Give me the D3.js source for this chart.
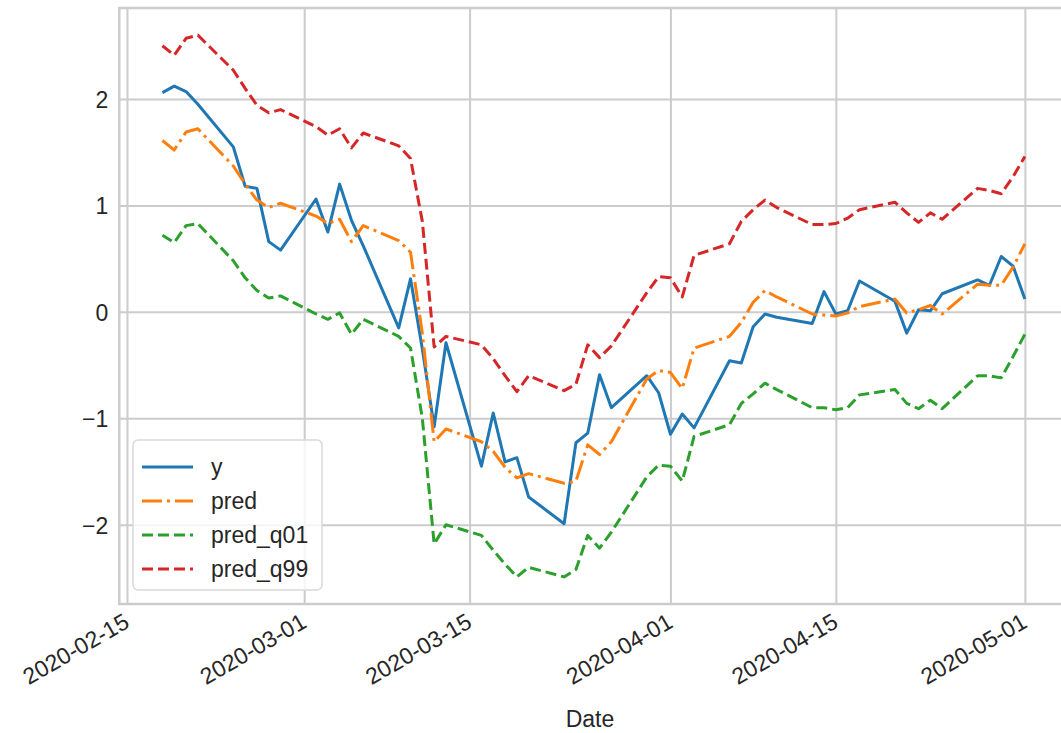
<!DOCTYPE html>
<html>
<head>
<meta charset="utf-8">
<script src="https://cdn.jsdelivr.net/npm/d3@7.9.0/dist/d3.min.js"></script>
<style>
  body { margin: 0; background: #fff; }
  svg text { font-family: "Liberation Sans", Arial, sans-serif; fill: #262626; }
</style>
</head>
<body>
<svg id="chart" width="1061" height="733"></svg>
<script>
// ─── DATA ────────────────────────────────────────────────────────────────────
const dates = [
  '2020-02-18','2020-02-19','2020-02-20','2020-02-21',
  '2020-02-24','2020-02-25','2020-02-26','2020-02-27','2020-02-28',
  '2020-03-02','2020-03-03','2020-03-04','2020-03-05','2020-03-06',
  '2020-03-09','2020-03-10','2020-03-11','2020-03-12','2020-03-13',
  '2020-03-16','2020-03-17','2020-03-18','2020-03-19','2020-03-20',
  '2020-03-23','2020-03-24','2020-03-25','2020-03-26','2020-03-27',
  '2020-03-30','2020-03-31','2020-04-01','2020-04-02','2020-04-03',
  '2020-04-06','2020-04-07','2020-04-08','2020-04-09','2020-04-10',
  '2020-04-13','2020-04-14','2020-04-15','2020-04-16','2020-04-17',
  '2020-04-20','2020-04-21','2020-04-22','2020-04-23','2020-04-24',
  '2020-04-27','2020-04-28','2020-04-29','2020-04-30','2020-05-01'
];

const yValues = [
  2.06, 2.12, 2.07, 1.95,
  1.55, 1.18, 1.16, 0.66, 0.58,
  1.06, 0.75, 1.20, 0.86, 0.62,
  -0.15, 0.31, -0.35, -1.08, -0.29,
  -1.45, -0.95, -1.41, -1.37, -1.74,
  -1.99, -1.23, -1.14, -0.59, -0.90,
  -0.60, -0.76, -1.15, -0.96, -1.09,
  -0.46, -0.48, -0.14, -0.02, -0.05,
  -0.11, 0.19, -0.02, 0.01, 0.29,
  0.10, -0.20, 0.02, 0.01, 0.17,
  0.30, 0.25, 0.52, 0.43, 0.12
];

const predValues = [
  1.61, 1.52, 1.69, 1.72,
  1.37, 1.20, 1.05, 0.98, 1.02,
  0.90, 0.83, 0.87, 0.66, 0.81,
  0.67, 0.56, -0.20, -1.22, -1.10,
  -1.22, -1.31, -1.46, -1.56, -1.52,
  -1.61, -1.59, -1.25, -1.34, -1.22,
  -0.63, -0.55, -0.57, -0.72, -0.34,
  -0.23, -0.10, 0.09, 0.20, 0.14,
  -0.02, -0.03, -0.04, -0.01, 0.05,
  0.12, -0.01, 0.02, 0.06, -0.02,
  0.26, 0.25, 0.25, 0.42, 0.64
];

const q01Values = [
  0.72, 0.65, 0.81, 0.83,
  0.48, 0.32, 0.20, 0.13, 0.15,
  -0.02, -0.07, -0.01, -0.21, -0.07,
  -0.23, -0.34, -1.00, -2.18, -2.00,
  -2.10, -2.24, -2.37, -2.49, -2.40,
  -2.49, -2.42, -2.10, -2.22, -2.07,
  -1.55, -1.44, -1.45, -1.59, -1.17,
  -1.06, -0.86, -0.77, -0.67, -0.73,
  -0.90, -0.90, -0.92, -0.90, -0.78,
  -0.73, -0.86, -0.91, -0.83, -0.91,
  -0.60, -0.60, -0.62, -0.42, -0.21
];

const q99Values = [
  2.50, 2.41, 2.57, 2.60,
  2.27, 2.10, 1.94, 1.87, 1.90,
  1.74, 1.66, 1.72, 1.54, 1.68,
  1.56, 1.44, 0.85, -0.33, -0.23,
  -0.31, -0.44, -0.60, -0.75, -0.60,
  -0.74, -0.68, -0.31, -0.43, -0.32,
  0.18, 0.33, 0.32, 0.14, 0.53,
  0.64, 0.85, 0.96, 1.05, 0.98,
  0.82, 0.82, 0.83, 0.88, 0.96,
  1.03, 0.93, 0.84, 0.93, 0.87,
  1.16, 1.14, 1.11, 1.27, 1.46
];

const xTickLabels = ['2020-02-15','2020-03-01','2020-03-15','2020-04-01','2020-04-15','2020-05-01'];
const yTickValues = [-2, -1, 0, 1, 2];

// ─── SETUP ───────────────────────────────────────────────────────────────────
const parse = d3.timeParse('%Y-%m-%d');
const fmt   = d3.timeFormat('%Y-%m-%d');
const FONT  = 23;

const M = { top: 8, left: 119.3 };
const W = 948.7;   // right spine falls just past the figure edge
const H = 596;

const series = [
  { name: 'y',        values: yValues,    color: '#1f77b4', dash: null },
  { name: 'pred',     values: predValues, color: '#ff7f0e', dash: '20,5,3,5' },
  { name: 'pred_q01', values: q01Values,  color: '#2ca02c', dash: '11,5' },
  { name: 'pred_q99', values: q99Values,  color: '#d62728', dash: '11,5' }
];

const times = dates.map(parse);

// matplotlib-like 5% margins
const [t0, t1] = d3.extent(times);
const tPad = (t1 - t0) * 0.05;
const allVals = series.flatMap(s => s.values);
const [v0, v1] = d3.extent(allVals);
const vPad = (v1 - v0) * 0.05;

const x = d3.scaleTime()
  .domain([new Date(+t0 - tPad), new Date(+t1 + tPad)])
  .range([0, W]);
const y = d3.scaleLinear()
  .domain([v0 - vPad, v1 + vPad])
  .range([H, 0]);

const svg = d3.select('#chart');
const g = svg.append('g').attr('transform', `translate(${M.left},${M.top})`);

// ─── GRID + AXES ─────────────────────────────────────────────────────────────
const yAxis = g.append('g')
  .call(d3.axisLeft(y).tickValues(yTickValues).tickSize(-W).tickPadding(11)
    .tickFormat(d => d < 0 ? '\u2212' + Math.abs(d) : String(d)));
yAxis.select('.domain').remove();
yAxis.selectAll('line').attr('stroke', '#cccccc').attr('stroke-width', 2);
yAxis.selectAll('text').style('font-size', FONT + 'px').attr('dy', '0.36em');

const xAxis = g.append('g')
  .attr('transform', `translate(0,${H})`)
  .call(d3.axisBottom(x).tickValues(xTickLabels.map(parse)).tickSize(-H).tickFormat(fmt));
xAxis.select('.domain').remove();
xAxis.selectAll('line').attr('stroke', '#cccccc').attr('stroke-width', 2);
xAxis.selectAll('text')
  .style('font-size', FONT + 'px')
  .attr('text-anchor', 'end')
  .attr('y', 0).attr('dy', '0.72em')
  .attr('transform', 'translate(-5,8) rotate(-30)');

// spines
g.append('rect')
  .attr('width', W).attr('height', H)
  .attr('fill', 'none')
  .attr('stroke', '#cccccc')
  .attr('stroke-width', 2.5);

// axis label
svg.append('text')
  .attr('x', 590)
  .attr('y', 727)
  .attr('text-anchor', 'middle')
  .style('font-size', FONT + 'px')
  .text('Date');

// ─── LINES ───────────────────────────────────────────────────────────────────
const line = d3.line()
  .x((d, i) => x(times[i]))
  .y(d => y(d));

series.forEach(s => {
  g.append('path')
    .datum(s.values)
    .attr('fill', 'none')
    .attr('stroke', s.color)
    .attr('stroke-width', 3)
    .attr('stroke-linejoin', 'round')
    .attr('stroke-dasharray', s.dash)
    .attr('d', line);
});

// ─── LEGEND ──────────────────────────────────────────────────────────────────
const legend = svg.append('g').attr('transform', 'translate(133,440)');
legend.append('rect')
  .attr('width', 189).attr('height', 150)
  .attr('rx', 5)
  .attr('fill', '#fff').attr('fill-opacity', 0.8)
  .attr('stroke', '#d9d9d9').attr('stroke-width', 1.5);

series.forEach((s, i) => {
  const row = legend.append('g').attr('transform', `translate(0,${27 + i * 34})`);
  row.append('line')
    .attr('x1', 9).attr('x2', 60)
    .attr('stroke', s.color)
    .attr('stroke-width', 3)
    .attr('stroke-dasharray', s.dash);
  row.append('text')
    .attr('x', 78).attr('dy', '0.36em')
    .style('font-size', FONT + 'px')
    .text(s.name);
});
</script>
</body>
</html>
